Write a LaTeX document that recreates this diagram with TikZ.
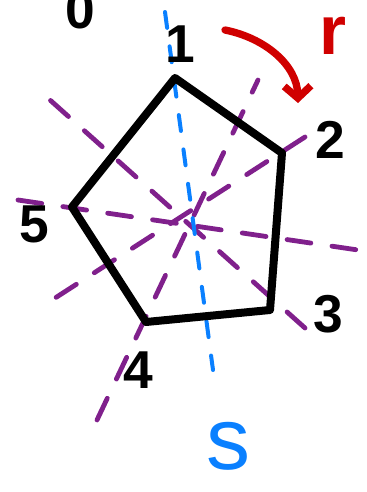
\documentclass[tikz,border=0pt]{standalone}
\usepackage{fontspec}
\setmainfont{Liberation Sans}
\usetikzlibrary{arrows.meta}
\definecolor{pur}{RGB}{128,32,140}
\definecolor{blu}{RGB}{10,128,255}
\definecolor{rd}{RGB}{208,0,0}
\tikzset{
  edge/.style={line width=6pt,black,line cap=round,line join=round},
  axisline/.style={line width=3.6pt,pur,line cap=round,dash pattern=on 18pt off 16pt},
  baxis/.style={line width=3pt,blu,line cap=round,dash pattern=on 12pt off 14pt},
  lab/.style={font=\fontsize{40}{40}\selectfont\bfseries,inner sep=0pt}
}
\begin{document}
\begin{tikzpicture}[x=0.75pt,y=-0.75pt]
\useasboundingbox (0,0) rectangle (367,492);
\begin{scope}
\clip (0,0) rectangle (367,492);
\node[lab] (zero) at (80,10) {0};
\end{scope}
% vertices
\coordinate (v1) at (175,78);
\coordinate (v2) at (282,153);
\coordinate (v3) at (270,310);
\coordinate (v4) at (146,322);
\coordinate (v5) at (72,207);
\coordinate (c) at (190,225);
% axis end points
\coordinate (a5s) at (18,200);
\coordinate (a5e) at (358,250);
\coordinate (a2s) at (305,137);
\coordinate (a2e) at (52,300);
\coordinate (a3s) at (305,328);
\coordinate (a3e) at (50,100);
\coordinate (a4s) at (97,420);
\coordinate (a4e) at (258,80);
\coordinate (b1s) at (165,12);
\coordinate (b1e) at (213,370);
% purple axes
\draw[axisline] (a5s) -- (a5e);
\draw[axisline] (a3s) -- (a3e);
\draw[axisline] (a2s) -- (a2e);
\draw[axisline] (a4s) -- (a4e);
% blue axis
\draw[baxis] (b1s) -- (b1e);
% pentagon
\draw[edge] (v1) -- (v2) -- (v3) -- (v4) -- (v5) -- cycle;
% labels
\node[lab] (l1) at (180,44) {1};
\node[lab] (l2) at (330,140) {2};
\node[lab] (l3) at (328,314) {3};
\node[lab] (l4) at (138,370) {4};
\node[lab] (l5) at (34,224) {5};
\node[lab,blu,font=\fontsize{66}{66}\selectfont] (ls) at (228,446) {s};
\node[lab,rd,font=\fontsize{52}{52}\selectfont\bfseries] (lr) at (333,36) {r};
% red arrow
\coordinate (ra) at (225,30);
\coordinate (rb) at (298,103);
\draw[rd,line width=5.5pt,line cap=round,-{Straight Barb[length=9pt,width=20pt,line width=5.5pt]}]
  (ra) .. controls (265,38) and (297,65) .. (rb);
\end{tikzpicture}
\end{document}
